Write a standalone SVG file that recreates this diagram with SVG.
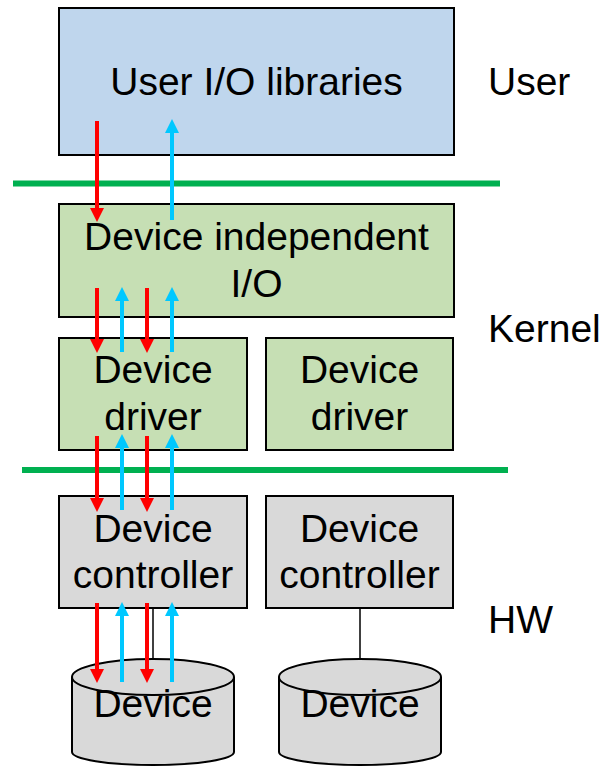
<svg xmlns="http://www.w3.org/2000/svg" width="606" height="767" viewBox="0 0 606 767">
<style>
.box{stroke:#000;stroke-width:2}
.blue{fill:#bfd6ed}
.green{fill:#c6dfb4}
.gray{fill:#d9d9d9}
.t{font-family:"Liberation Sans",Arial,sans-serif;font-size:39px;fill:#000;text-anchor:middle}
.lbl{font-family:"Liberation Sans",Arial,sans-serif;font-size:39px;fill:#000}
.sep{stroke:#00b050;stroke-width:6}
.down{stroke:#ff0000;stroke-width:4;fill:none;marker-end:url(#ah-red)}
.up{stroke:#00c8ff;stroke-width:4;fill:none;marker-end:url(#ah-cyan)}
.wire{stroke:#000;stroke-width:1.5}
</style>
<defs>
<marker id="ah-red" markerUnits="userSpaceOnUse" markerWidth="14" markerHeight="14" refX="0" refY="7" orient="auto"><path d="M0,0 L14,7 L0,14 z" fill="#ff0000"/></marker>
<marker id="ah-cyan" markerUnits="userSpaceOnUse" markerWidth="14" markerHeight="14" refX="0" refY="7" orient="auto"><path d="M0,0 L14,7 L0,14 z" fill="#00c8ff"/></marker>
</defs>

<g id="user-io">
<rect class="box blue" x="59" y="8" width="395" height="147"/>
<text class="t" x="256.5" y="95">User I/O libraries</text>
</g>
<g id="dev-indep">
<rect class="box green" x="59" y="204" width="395" height="113"/>
<text class="t" x="256.5" y="250">Device independent</text>
<text class="t" x="256.5" y="297">I/O</text>
</g>
<g id="driver1">
<rect class="box green" x="59" y="338" width="188" height="112"/>
<text class="t" x="153" y="383">Device</text>
<text class="t" x="153" y="430">driver</text>
</g>
<g id="driver2">
<rect class="box green" x="266" y="338" width="187" height="112"/>
<text class="t" x="359.5" y="383">Device</text>
<text class="t" x="359.5" y="430">driver</text>
</g>
<g id="controller1">
<rect class="box gray" x="59" y="496" width="188" height="112"/>
<text class="t" x="153" y="542">Device</text>
<text class="t" x="153" y="588">controller</text>
</g>
<g id="controller2">
<rect class="box gray" x="266" y="496" width="187" height="112"/>
<text class="t" x="359.5" y="542">Device</text>
<text class="t" x="359.5" y="588">controller</text>
</g>
<g id="device1">
<path class="box gray" d="M72,677 L72,752 A81,13 0 0 0 234,752 L234,677"/>
<ellipse class="box gray" cx="153" cy="677" rx="81" ry="18"/>
<text class="t" x="153" y="717">Device</text>
</g>
<g id="device2">
<path class="box gray" d="M279,677 L279,752 A81,13 0 0 0 441,752 L441,677"/>
<ellipse class="box gray" cx="360" cy="677" rx="81" ry="18"/>
<text class="t" x="360" y="717">Device</text>
</g>

<g id="layers">
<line class="sep" x1="13" y1="183.5" x2="500" y2="183.5"/>
<line class="sep" x1="22" y1="470" x2="508" y2="470"/>
<text class="lbl" x="488" y="95">User</text>
<text class="lbl" x="488" y="342">Kernel</text>
<text class="lbl" x="488" y="633">HW</text>
</g>

<g id="connectors">
<line class="wire" x1="153" y1="608" x2="153" y2="659"/>
<line class="wire" x1="360" y1="608" x2="360" y2="659"/>
<line class="down" x1="97" y1="121" x2="97" y2="208"/>
<line class="up" x1="172" y1="220" x2="172" y2="133"/>
<line class="down" x1="97" y1="288" x2="97" y2="339"/>
<line class="down" x1="147" y1="288" x2="147" y2="339"/>
<line class="up" x1="122" y1="352" x2="122" y2="301"/>
<line class="up" x1="172" y1="352" x2="172" y2="301"/>
<line class="down" x1="97" y1="436" x2="97" y2="498"/>
<line class="down" x1="147" y1="436" x2="147" y2="498"/>
<line class="up" x1="122" y1="510" x2="122" y2="448"/>
<line class="up" x1="172" y1="510" x2="172" y2="448"/>
<line class="down" x1="97" y1="603" x2="97" y2="669"/>
<line class="down" x1="147" y1="603" x2="147" y2="669"/>
<line class="up" x1="122" y1="682" x2="122" y2="616"/>
<line class="up" x1="172" y1="682" x2="172" y2="616"/>
</g>
</svg>
